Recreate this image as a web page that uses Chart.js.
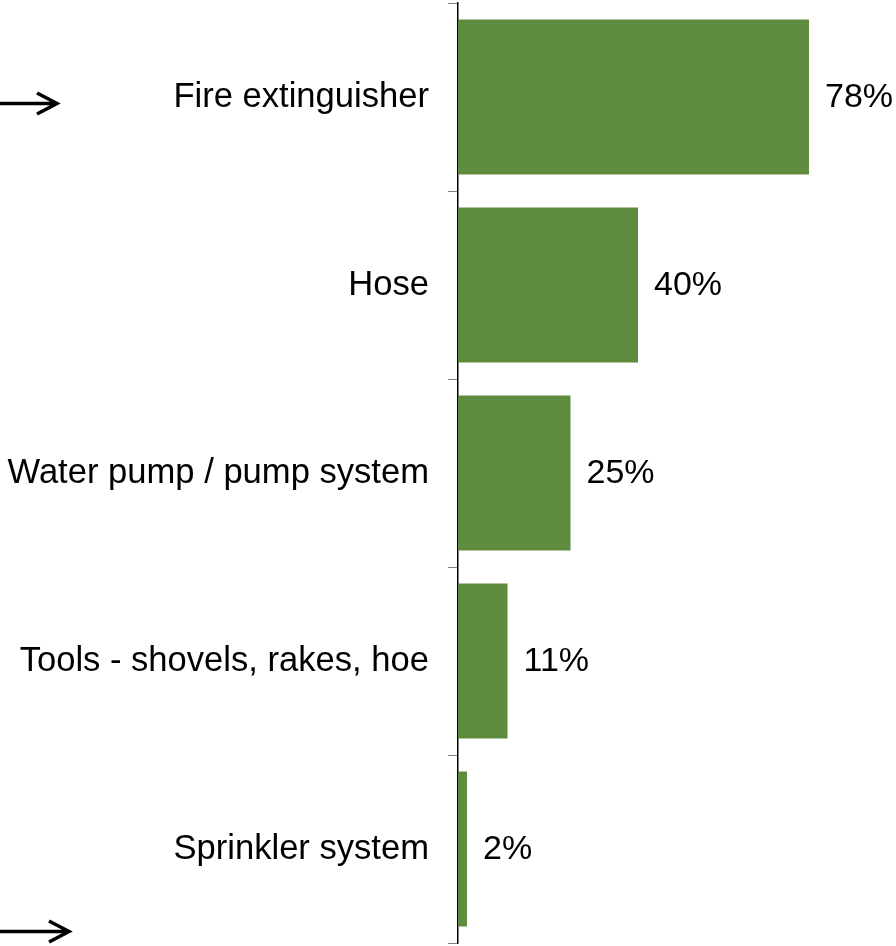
<!DOCTYPE html>
<html>
<head>
<meta charset="utf-8">
<script src="https://cdn.jsdelivr.net/npm/chart.js@4"></script>
<style>
  html, body { margin: 0; padding: 0; background: #fff; }
  #wrap { width: 896px; height: 946px; position: relative; }
</style>
</head>
<body>
<div id="wrap"><canvas id="myChart"></canvas></div>
<script>
const categories = ['Fire extinguisher', 'Hose', 'Water pump / pump system', 'Tools - shovels, rakes, hoe', 'Sprinkler system'];
const percentages = [78, 40, 25, 11, 2];

const fontFamily = '"Liberation Sans", Arial, sans-serif';

// value labels drawn at the end of each bar
const valueLabels = {
    id: 'valueLabels',
    afterDatasetsDraw(chart) {
        const ctx = chart.ctx;
        const meta = chart.getDatasetMeta(0);
        ctx.save();
        ctx.font = '34px ' + fontFamily;
        ctx.fillStyle = '#000';
        ctx.textAlign = 'left';
        ctx.textBaseline = 'middle';
        meta.data.forEach((bar, i) => {
            ctx.fillText(percentages[i] + '%', bar.x + 16, bar.y + 1);
        });
        ctx.restore();
    }
};

// the two arrows on the left edge
const arrows = {
    id: 'arrows',
    afterDraw(chart) {
        const ctx = chart.ctx;
        const drawArrow = (y, len) => {
            ctx.beginPath();
            ctx.moveTo(0, y);
            ctx.lineTo(len, y);
            ctx.moveTo(len - 20, y - 10.5);
            ctx.lineTo(len, y);
            ctx.lineTo(len - 20, y + 10.5);
            ctx.stroke();
        };
        ctx.save();
        ctx.strokeStyle = '#000';
        ctx.lineWidth = 3.5;
        drawArrow(103.5, 57);
        drawArrow(931.5, 69);
        ctx.restore();
    }
};

const ctx = document.getElementById('myChart').getContext('2d');
new Chart(ctx, {
    type: 'bar',
    data: {
        labels: categories,
        datasets: [{
            data: percentages,
            backgroundColor: '#5e8b3e',
            borderWidth: 0,
            categoryPercentage: 1,
            barPercentage: 0.825,
        }]
    },
    options: {
        indexAxis: 'y',
        responsive: true,
        maintainAspectRatio: false,
        animation: false,
        layout: { padding: { top: 3, bottom: 3, left: 0, right: 0 } },
        plugins: {
            legend: { display: false },
            tooltip: { enabled: false }
        },
        scales: {
            x: {
                display: false,
                min: 0,
                max: 97.33
            },
            y: {
                offset: true,
                afterFit: function (scale) {
                    scale.width = 458;
                    scale.paddingTop = 0;
                    scale.paddingBottom = 0;
                },
                grid: {
                    drawOnChartArea: false,
                    drawTicks: true,
                    tickLength: 10,
                    color: '#7f7f7f',
                    offset: true
                },
                border: { color: '#000', width: 1.5 },
                ticks: {
                    padding: 19,
                    color: '#000',
                    font: { size: 34.6, family: fontFamily }
                }
            }
        }
    },
    plugins: [valueLabels, arrows]
});
</script>
</body>
</html>
